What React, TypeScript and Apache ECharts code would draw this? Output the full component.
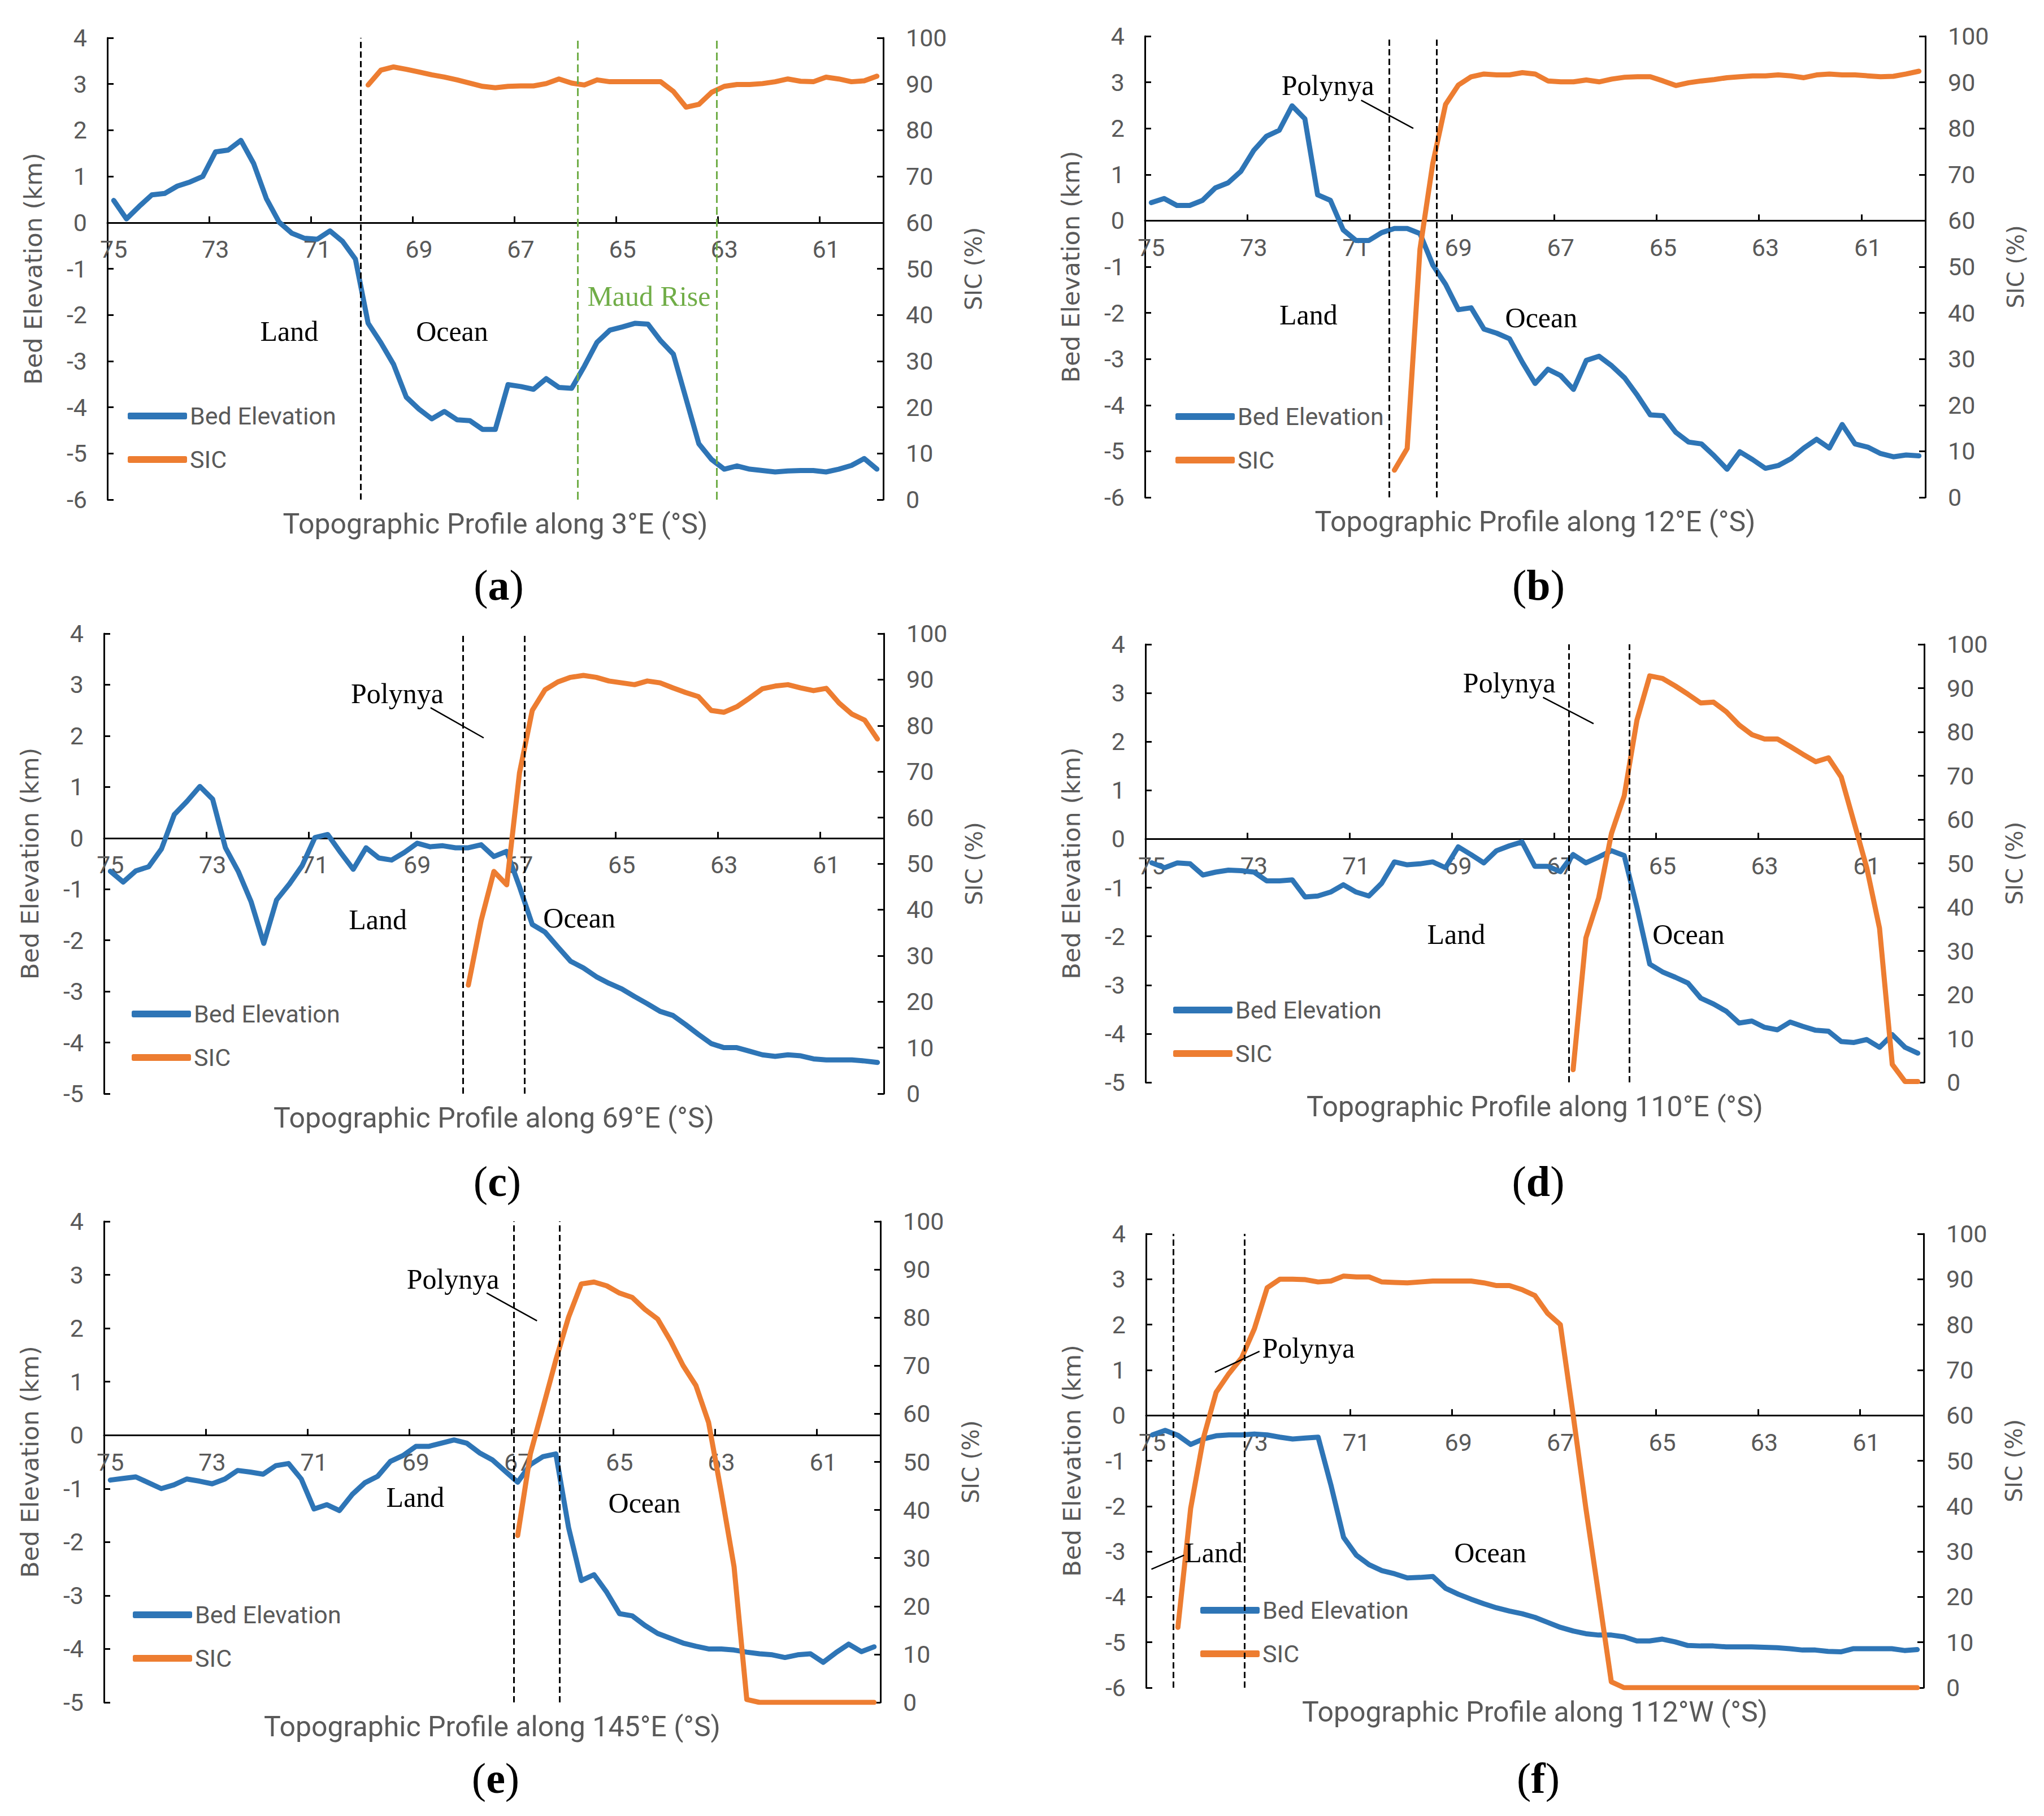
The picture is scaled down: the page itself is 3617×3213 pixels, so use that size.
import React, { useEffect, useRef } from "react";
import * as echarts from "echarts";

// ---------- data ----------
const LATITUDES = [
  75, 74.75, 74.5, 74.25, 74, 73.75, 73.5, 73.25, 73, 72.75, 72.5, 72.25, 72, 71.75, 71.5, 71.25,
  71, 70.75, 70.5, 70.25, 70, 69.75, 69.5, 69.25, 69, 68.75, 68.5, 68.25, 68, 67.75, 67.5, 67.25,
  67, 66.75, 66.5, 66.25, 66, 65.75, 65.5, 65.25, 65, 64.75, 64.5, 64.25, 64, 63.75, 63.5, 63.25,
  63, 62.75, 62.5, 62.25, 62, 61.75, 61.5, 61.25, 61, 60.75, 60.5, 60.25, 60,
];
const X_LABELS = [75, 73, 71, 69, 67, 65, 63, 61];
const X_TICKS = [73.125, 71.125, 69.125, 67.125, 65.125, 63.125, 61.125];

const bedA = [0.48, 0.08, 0.35, 0.6, 0.63, 0.79, 0.88, 1.0, 1.53, 1.57, 1.78, 1.28, 0.52, 0.01, -0.23, -0.34, -0.36, -0.18, -0.41, -0.79, -2.18, -2.6, -3.07, -3.78, -4.04, -4.25, -4.09, -4.27, -4.29, -4.48, -4.48, -3.51, -3.55, -3.61, -3.38, -3.57, -3.59, -3.11, -2.59, -2.33, -2.26, -2.18, -2.2, -2.56, -2.85, -3.82, -4.79, -5.13, -5.34, -5.27, -5.34, -5.37, -5.4, -5.38, -5.37, -5.37, -5.4, -5.34, -5.26, -5.11, -5.34];
const sicA = [null, null, null, null, null, null, null, null, null, null, null, null, null, null, null, null, null, null, null, null,
  89.8, 93.0, 93.7, 93.2, 92.6, 92.0, 91.5, 90.9, 90.2, 89.5, 89.2, 89.5, 89.6, 89.6, 90.1, 91.1, 90.2, 89.8, 90.9, 90.5, 90.5, 90.5, 90.5, 90.5, 88.4, 85.0, 85.6, 88.2, 89.5, 89.9, 89.9, 90.1, 90.5, 91.1, 90.6, 90.5, 91.5, 91.1, 90.5, 90.7, 91.7];

const bedB = [0.39, 0.48, 0.33, 0.33, 0.44, 0.71, 0.82, 1.07, 1.52, 1.83, 1.96, 2.49, 2.21, 0.56, 0.44, -0.2, -0.43, -0.43, -0.26, -0.17, -0.17, -0.28, -0.96, -1.38, -1.93, -1.89, -2.35, -2.44, -2.56, -3.07, -3.53, -3.22, -3.36, -3.66, -3.03, -2.94, -3.15, -3.41, -3.79, -4.21, -4.23, -4.59, -4.8, -4.84, -5.1, -5.39, -5.01, -5.18, -5.37, -5.31, -5.16, -4.93, -4.74, -4.93, -4.42, -4.84, -4.91, -5.05, -5.12, -5.08, -5.1];
const sicB = [null, null, null, null, null, null, null, null, null, null, null, null, null, null, null, null, null, null, null,
  5.9, 10.6, 53.8, 72.4, 85.2, 89.4, 91.2, 91.8, 91.6, 91.6, 92.1, 91.8, 90.3, 90.1, 90.1, 90.5, 90.1, 90.7, 91.1, 91.2, 91.2, 90.3, 89.3, 89.9, 90.3, 90.6, 91.0, 91.2, 91.4, 91.4, 91.6, 91.4, 91.0, 91.6, 91.8, 91.6, 91.6, 91.4, 91.2, 91.3, 91.8, 92.4];

const bedC = [-0.65, -0.86, -0.64, -0.56, -0.21, 0.46, 0.72, 1.01, 0.76, -0.19, -0.65, -1.24, -2.06, -1.21, -0.9, -0.54, 0.01, 0.07, -0.28, -0.61, -0.19, -0.39, -0.43, -0.28, -0.1, -0.17, -0.15, -0.19, -0.19, -0.13, -0.36, -0.26, -0.95, -1.69, -1.84, -2.13, -2.41, -2.54, -2.71, -2.84, -2.95, -3.1, -3.24, -3.39, -3.47, -3.65, -3.84, -4.02, -4.1, -4.1, -4.17, -4.24, -4.27, -4.24, -4.26, -4.32, -4.34, -4.34, -4.34, -4.36, -4.39];
const sicC = [null, null, null, null, null, null, null, null, null, null, null, null, null, null, null, null, null, null, null, null, null, null, null, null, null, null, null, null,
  23.6, 37.6, 48.3, 45.4, 69.7, 83.3, 87.8, 89.5, 90.5, 90.9, 90.5, 89.7, 89.3, 88.9, 89.7, 89.3, 88.2, 87.2, 86.3, 83.3, 82.9, 84.1, 86.0, 88.0, 88.6, 88.9, 88.2, 87.6, 88.1, 84.9, 82.5, 81.2, 77.1];

const bedD = [-0.49, -0.59, -0.49, -0.51, -0.74, -0.68, -0.64, -0.65, -0.68, -0.86, -0.86, -0.84, -1.19, -1.17, -1.09, -0.94, -1.09, -1.17, -0.91, -0.47, -0.53, -0.51, -0.47, -0.59, -0.16, -0.32, -0.49, -0.24, -0.14, -0.06, -0.56, -0.56, -0.67, -0.32, -0.49, -0.37, -0.24, -0.34, -1.4, -2.57, -2.73, -2.84, -2.96, -3.27, -3.39, -3.54, -3.78, -3.74, -3.87, -3.92, -3.76, -3.85, -3.93, -3.95, -4.16, -4.18, -4.12, -4.28, -4.02, -4.28, -4.4];
const sicD = [null, null, null, null, null, null, null, null, null, null, null, null, null, null, null, null, null, null, null, null, null, null, null, null, null, null, null, null, null, null, null, null, null,
  2.9, 33.0, 42.1, 56.8, 65.4, 82.7, 92.8, 92.2, 90.5, 88.6, 86.6, 86.8, 84.6, 81.6, 79.4, 78.4, 78.4, 76.7, 74.9, 73.2, 74.1, 69.7, 59.4, 49.0, 35.2, 4.1, 0.2, 0.2];

const bedE = [-0.84, -0.81, -0.78, -0.89, -1.0, -0.93, -0.82, -0.86, -0.91, -0.82, -0.66, -0.69, -0.73, -0.57, -0.53, -0.82, -1.38, -1.3, -1.41, -1.11, -0.89, -0.77, -0.49, -0.38, -0.21, -0.21, -0.15, -0.09, -0.15, -0.33, -0.46, -0.67, -0.88, -0.55, -0.4, -0.35, -1.73, -2.72, -2.61, -2.94, -3.34, -3.38, -3.56, -3.71, -3.8, -3.89, -3.95, -4.0, -4.0, -4.02, -4.06, -4.09, -4.11, -4.16, -4.11, -4.09, -4.25, -4.07, -3.91, -4.05, -3.96];
const sicE = [null, null, null, null, null, null, null, null, null, null, null, null, null, null, null, null, null, null, null, null, null, null, null, null, null, null, null, null, null, null, null, null,
  34.7, 51.7, 61.4, 71.2, 80.1, 87.0, 87.4, 86.6, 85.1, 84.2, 81.7, 79.7, 75.2, 70.0, 65.9, 58.2, 43.6, 28.2, 0.6, 0, 0, 0, 0, 0, 0, 0, 0, 0, 0];

const bedF = [-0.43, -0.33, -0.44, -0.64, -0.52, -0.45, -0.43, -0.43, -0.41, -0.43, -0.48, -0.52, -0.5, -0.48, -1.53, -2.69, -3.08, -3.29, -3.42, -3.49, -3.58, -3.57, -3.55, -3.81, -3.94, -4.05, -4.15, -4.24, -4.31, -4.37, -4.45, -4.56, -4.67, -4.75, -4.81, -4.84, -4.84, -4.88, -4.97, -4.97, -4.93, -4.99, -5.07, -5.08, -5.08, -5.1, -5.1, -5.1, -5.11, -5.12, -5.14, -5.17, -5.17, -5.2, -5.21, -5.14, -5.14, -5.14, -5.14, -5.18, -5.16];
const sicF = [null, null,
  13.3, 39.5, 55.0, 65.1, 69.2, 72.7, 79.1, 88.1, 90.0, 90.0, 89.9, 89.4, 89.6, 90.7, 90.5, 90.5, 89.4, 89.3, 89.2, 89.4, 89.6, 89.6, 89.6, 89.6, 89.2, 88.6, 88.6, 87.7, 86.4, 82.5, 80.0, 60.2, 39.6, 20.6, 1.3,
  0, 0, 0, 0, 0, 0, 0, 0, 0, 0, 0, 0, 0, 0, 0, 0, 0, 0, 0, 0, 0, 0, 0, 0];

// ---------- styles ----------
const BLUE = "#2E75B6";
const ORANGE = "#ED7D31";
const GREEN = "#70AD47";
const GRAY = "#595959";
const NARROW = '"Liberation Sans Narrow", "Arial Narrow", Roboto, sans-serif';
const WIDE = '"DejaVu Sans", Verdana, sans-serif';
const SERIF = '"Liberation Serif", "Times New Roman", serif';
const Y_MAX = 4;

type Note = { text: string; lat: number; y: number; color?: string };
type Panel = {
  letter: string;
  title: string;
  bed: number[];
  sic: (number | null)[];
  left: number; top: number; width: number; height: number;
  ymin: number;
  legendLeft: number; legendTop: number;
  labelY: number;
  dividers: { lat: number; color: string }[];
  leaders: [number, number][][];
  notes: Note[];
};

const PANELS: Panel[] = [
  {
    letter: "a", title: "Topographic Profile along 3°E (°S)", bed: bedA, sic: sicA,
    left: 190, top: 67, width: 1373, height: 817, ymin: -6,
    legendLeft: 226, legendTop: 736, labelY: 1035,
    dividers: [{ lat: 70.15, color: "#000" }, { lat: 65.875, color: GREEN }, { lat: 63.15, color: GREEN }],
    leaders: [],
    notes: [
      { text: "Land", lat: 71.55, y: -2.35 },
      { text: "Ocean", lat: 68.35, y: -2.35 },
      { text: "Maud Rise", lat: 64.48, y: -1.59, color: GREEN },
    ],
  },
  {
    letter: "b", title: "Topographic Profile along 12°E (°S)", bed: bedB, sic: sicB,
    left: 2026, top: 64, width: 1381, height: 816, ymin: -6,
    legendLeft: 2080, legendTop: 737, labelY: 1035,
    dividers: [{ lat: 70.35, color: "#000" }, { lat: 69.425, color: "#000" }],
    leaders: [[[70.9, 2.61], [69.88, 2.0]]],
    notes: [
      { text: "Polynya", lat: 71.55, y: 2.93 },
      { text: "Land", lat: 71.93, y: -2.04 },
      { text: "Ocean", lat: 67.38, y: -2.1 },
    ],
  },
  {
    letter: "c", title: "Topographic Profile along 69°E (°S)", bed: bedC, sic: sicC,
    left: 184, top: 1121, width: 1380, height: 814, ymin: -5,
    legendLeft: 233, legendTop: 1794, labelY: 2090,
    dividers: [{ lat: 68.1, color: "#000" }, { lat: 66.9, color: "#000" }],
    leaders: [[[68.74, 2.55], [67.7, 1.96]]],
    notes: [
      { text: "Polynya", lat: 69.39, y: 2.83 },
      { text: "Land", lat: 69.77, y: -1.6 },
      { text: "Ocean", lat: 65.83, y: -1.56 },
    ],
  },
  {
    letter: "d", title: "Topographic Profile along 110°E (°S)", bed: bedD, sic: sicD,
    left: 2027, top: 1140, width: 1378, height: 775, ymin: -5,
    legendLeft: 2076, legendTop: 1787, labelY: 2090,
    dividers: [{ lat: 66.825, color: "#000" }, { lat: 65.65, color: "#000" }],
    leaders: [[[67.34, 2.91], [66.35, 2.37]]],
    notes: [
      { text: "Polynya", lat: 68.0, y: 3.21 },
      { text: "Land", lat: 69.04, y: -1.96 },
      { text: "Ocean", lat: 64.49, y: -1.96 },
    ],
  },
  {
    letter: "e", title: "Topographic Profile along 145°E (°S)", bed: bedE, sic: sicE,
    left: 184, top: 2161, width: 1374, height: 851, ymin: -5,
    legendLeft: 235, legendTop: 2857, labelY: 3146,
    dividers: [{ lat: 67.08, color: "#000" }, { lat: 66.18, color: "#000" }],
    leaders: [[[67.61, 2.66], [66.62, 2.14]]],
    notes: [
      { text: "Polynya", lat: 68.27, y: 2.92 },
      { text: "Land", lat: 69.01, y: -1.16 },
      { text: "Ocean", lat: 64.51, y: -1.27 },
    ],
  },
  {
    letter: "f", title: "Topographic Profile along 112°W (°S)", bed: bedF, sic: sicF,
    left: 2028, top: 2183, width: 1376, height: 803, ymin: -6,
    legendLeft: 2124, legendTop: 2849, labelY: 3146,
    dividers: [{ lat: 74.595, color: "#000" }, { lat: 73.195, color: "#000" }],
    leaders: [[[73.775, 0.95], [72.9, 1.41]], [[75.02, -3.39], [74.38, -3.08]]],
    notes: [
      { text: "Polynya", lat: 71.94, y: 1.48 },
      { text: "Land", lat: 73.8, y: -3.02 },
      { text: "Ocean", lat: 68.375, y: -3.02 },
    ],
  },
];

const TICK_FONT = 43;
const LEGEND_GAP = 34;

function buildOption() {
  const grid: any[] = [];
  const xAxis: any[] = [];
  const yAxis: any[] = [];
  const series: any[] = [];
  const legend: any[] = [];
  const graphic: any[] = [];

  PANELS.forEach((p, i) => {
    grid.push({ left: p.left, top: p.top, width: p.width, height: p.height });

    // the x axis sits on the zero line of the elevation axis
    const zeroOffset = -p.height * (0 - p.ymin) / (Y_MAX - p.ymin);

    xAxis.push({
      type: "value",
      gridIndex: i,
      position: "bottom",
      offset: zeroOffset,
      inverse: true,
      min: 59.875,
      max: 75.125,
      axisLine: { show: true, onZero: false, lineStyle: { color: "#000", width: 3 } },
      axisTick: { show: true, inside: true, length: 11, customValues: X_TICKS, lineStyle: { color: "#000", width: 3 } },
      axisLabel: {
        customValues: X_LABELS, margin: 26, color: GRAY, fontFamily: NARROW, fontSize: TICK_FONT,
        formatter: (v: number) => String(v),
      },
      splitLine: { show: false },
    });

    yAxis.push({
      type: "value",
      gridIndex: i,
      position: "left",
      min: p.ymin,
      max: Y_MAX,
      interval: 1,
      axisLine: { show: true, onZero: false, lineStyle: { color: "#000", width: 3 } },
      axisTick: { show: true, inside: true, length: 11, lineStyle: { color: "#000", width: 3 } },
      axisLabel: { margin: 36, color: GRAY, fontFamily: NARROW, fontSize: TICK_FONT },
      splitLine: { show: false },
      name: "Bed Elevation (km)",
      nameLocation: "middle",
      nameRotate: 90,
      nameGap: 110,
      nameTextStyle: { color: GRAY, fontFamily: WIDE, fontSize: 43 },
    });
    yAxis.push({
      type: "value",
      gridIndex: i,
      position: "right",
      min: 0,
      max: 100,
      interval: 10,
      axisLine: { show: true, onZero: false, lineStyle: { color: "#000", width: 3 } },
      axisTick: { show: true, inside: true, length: 11, lineStyle: { color: "#000", width: 3 } },
      axisLabel: { margin: 40, color: GRAY, fontFamily: NARROW, fontSize: TICK_FONT },
      splitLine: { show: false },
      name: "SIC (%)",
      nameLocation: "middle",
      nameRotate: 90,
      nameGap: 140,
      nameTextStyle: { color: GRAY, fontFamily: WIDE, fontSize: 40 },
    });

    const markLineData: any[] = [];
    p.dividers.forEach((d) => {
      markLineData.push({
        xAxis: d.lat,
        lineStyle: { color: d.color, width: 3, type: d.color === "#000" ? [11, 6] : [14, 7] },
      });
    });
    p.leaders.forEach((l) => {
      markLineData.push([
        { coord: l[0], lineStyle: { color: "#000", width: 2.5, type: "solid" } },
        { coord: l[1] },
      ]);
    });

    series.push({
      type: "line",
      name: "Bed Elevation",
      xAxisIndex: i,
      yAxisIndex: 2 * i,
      data: LATITUDES.map((lat, k) => [lat, p.bed[k]]),
      showSymbol: false,
      symbol: "none",
      lineStyle: { color: BLUE, width: 9, cap: "round", join: "round" },
      itemStyle: { color: BLUE },
      emphasis: { disabled: true },
      z: 3,
      markLine: {
        silent: true,
        symbol: ["none", "none"],
        label: { show: false },
        emphasis: { disabled: true },
        data: markLineData,
      },
      markPoint: {
        silent: true,
        data: p.notes.map((n) => ({
          coord: [n.lat, n.y],
          symbol: "rect",
          symbolSize: 1,
          itemStyle: { color: "rgba(0,0,0,0)" },
          label: {
            show: true,
            position: "inside",
            formatter: n.text,
            color: n.color || "#000",
            fontFamily: SERIF,
            fontSize: 50,
          },
        })),
      },
    });

    series.push({
      type: "line",
      name: "SIC",
      xAxisIndex: i,
      yAxisIndex: 2 * i + 1,
      data: LATITUDES.map((lat, k) => [lat, p.sic[k]]).filter((d) => d[1] !== null),
      showSymbol: false,
      symbol: "none",
      lineStyle: { color: ORANGE, width: 9, cap: "round", join: "round" },
      itemStyle: { color: ORANGE },
      emphasis: { disabled: true },
      z: 3,
    });

    legend.push({
      show: true,
      orient: "vertical",
      left: p.legendLeft,
      top: p.legendTop - TICK_FONT / 2,
      padding: 0,
      itemGap: LEGEND_GAP,
      itemWidth: 105,
      itemHeight: 12,
      icon: "roundRect",
      selectedMode: false,
      data: ["Bed Elevation", "SIC"],
      textStyle: { color: GRAY, fontFamily: NARROW, fontSize: TICK_FONT },
    });

    graphic.push({
      type: "text",
      x: p.left + p.width / 2,
      y: p.top + p.height + 43,
      silent: true,
      style: {
        text: p.title,
        fill: GRAY,
        fontFamily: NARROW,
        fontSize: 50,
        align: "center",
        verticalAlign: "middle",
      },
    });

    graphic.push({
      type: "text",
      x: p.left + p.width / 2 + 6,
      y: p.labelY,
      silent: true,
      style: {
        text: "({b|" + p.letter + "})",
        fill: "#000",
        fontFamily: SERIF,
        fontSize: 76,
        align: "center",
        verticalAlign: "middle",
        rich: {
          b: { fill: "#000", fontFamily: SERIF, fontSize: 76, fontWeight: "bold" },
        },
      },
    });
  });

  return {
    animation: false,
    backgroundColor: "#fff",
    grid,
    xAxis,
    yAxis,
    series,
    legend,
    graphic,
  };
}

export default function App() {
  const ref = useRef<HTMLDivElement>(null);
  useEffect(() => {
    document.body.style.margin = "0";
    document.body.style.overflow = "hidden";
    const chart = echarts.init(ref.current as HTMLDivElement, null, { renderer: "svg" });
    chart.setOption(buildOption() as any);
    return () => chart.dispose();
  }, []);
  return (
    <div
      ref={ref}
      style={{ position: "absolute", left: 0, top: 0, width: 3617, height: 3213, background: "#fff" }}
    />
  );
}
